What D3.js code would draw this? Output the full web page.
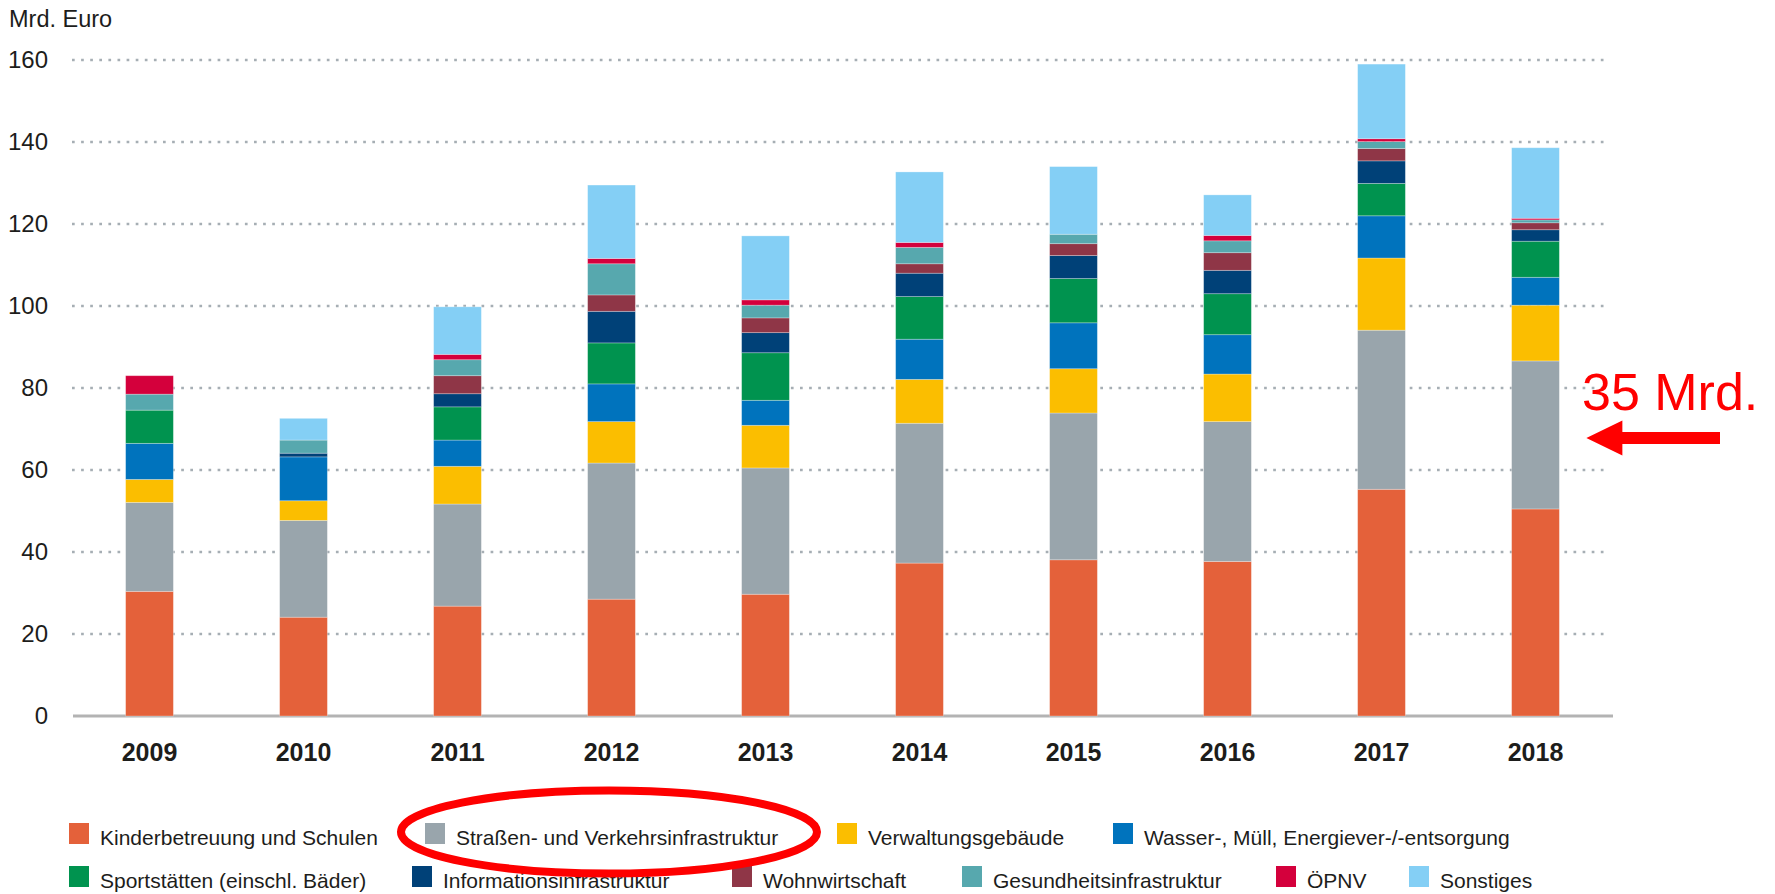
<!DOCTYPE html>
<html>
<head>
<meta charset="utf-8">
<script src="https://cdn.jsdelivr.net/npm/d3@7"></script>
<style>
  body { margin: 0; background: #fff; }
  svg { display: block; font-family: "Liberation Sans", Arial, sans-serif; }
</style>
</head>
<body>
<svg id="chart" width="1775" height="894"></svg>
<script>
// data (Mrd. Euro)
const years = ["2009", "2010", "2011", "2012", "2013", "2014", "2015", "2016", "2017", "2018"];
const seriesNames = [
    "Kinderbetreuung und Schulen", "Straßen- und Verkehrsinfrastruktur", "Verwaltungsgebäude",
    "Wasser-, Müll, Energiever-/-entsorgung", "Sportstätten (einschl. Bäder)", "Informationsinfrastruktur",
    "Wohnwirtschaft", "Gesundheitsinfrastruktur", "ÖPNV", "Sonstiges"
];
const kinder     = [30.4, 24.1, 26.8, 28.5, 29.7, 37.3, 38.1, 37.7, 55.3, 50.5];
const strassen   = [21.7, 23.6, 24.9, 33.2, 30.8, 34.1, 35.8, 34.1, 38.8, 36.1];
const verwaltung = [5.6, 4.8, 9.2, 10.1, 10.4, 10.7, 10.8, 11.6, 17.6, 13.6];
const wasser     = [8.8, 10.7, 6.4, 9.2, 6.1, 9.8, 11.2, 9.6, 10.3, 6.8];
const sport      = [8.1, 0, 8.1, 10.0, 11.6, 10.4, 10.8, 10.0, 7.9, 8.8];
const info       = [0, 0.9, 3.2, 7.7, 4.9, 5.7, 5.6, 5.7, 5.5, 2.8];
const wohnen     = [0, 0, 4.4, 4.0, 3.6, 2.3, 2.9, 4.3, 3.0, 1.7];
const gesundheit = [3.9, 3.2, 3.9, 7.6, 3.1, 4.0, 2.3, 2.9, 1.7, 0.7];
const oepnv      = [4.5, 0, 1.3, 1.3, 1.3, 1.2, 0, 1.3, 0.7, 0.4];
const sonstiges  = [0, 5.3, 11.6, 17.9, 15.6, 17.2, 16.5, 9.9, 18.2, 17.2];
const yTicks = [0, 20, 40, 60, 80, 100, 120, 140, 160];

const seriesValues = [kinder, strassen, verwaltung, wasser, sport, info, wohnen, gesundheit, oepnv, sonstiges];
const colors = ["#e4613a", "#99a5ac", "#fbbe00", "#0073bd", "#00934f",
                "#004178", "#8f3647", "#57a8ae", "#d4003c", "#84cff5"];

// legend layout (two rows, like the original)
const legendRows = [[0, 1, 2, 3], [4, 5, 6, 7, 8, 9]];
const legendX = [[69, 425, 837, 1113], [69, 412, 732, 962, 1276, 1409]];
const legendY = [823, 866];

const svg = d3.select("#chart");
const textColor = "#1d1d1b";

// table for the stack
const table = years.map((yr, i) => {
    let row = { year: yr };
    seriesNames.forEach((name, k) => { row[name] = seriesValues[k][i]; });
    return row;
});
const stacked = d3.stack().keys(seriesNames)(table);

let x = d3.scaleBand()
    .domain(years)
    .range([72.5, 1612.5])
    .paddingInner(0.69)
    .paddingOuter(0.345);

let y = d3.scaleLinear()
    .domain([0, 160])
    .range([716, 60]);

// dotted gridlines
svg.append("g")
    .selectAll("line")
    .data(yTicks.filter(d => d > 0))
    .enter().append("line")
    .attr("x1", 72)
    .attr("x2", 1605)
    .attr("y1", d => y(d))
    .attr("y2", d => y(d))
    .style("stroke", "#a6aeb4")
    .style("stroke-width", 2.7)
    .style("stroke-dasharray", "2.7,6.4");

// baseline
svg.append("line")
    .attr("x1", 73)
    .attr("x2", 1613)
    .attr("y1", y(0))
    .attr("y2", y(0))
    .style("stroke", "#b3b3b3")
    .style("stroke-width", 3);

// y axis labels
let yAxis = svg.append("g")
    .attr("transform", "translate(48,0)")
    .call(d3.axisLeft(y).tickValues(yTicks).tickSize(0).tickPadding(0));
yAxis.select(".domain").remove();
yAxis.selectAll("text")
    .style("font-family", "Liberation Sans, Arial, sans-serif")
    .style("font-size", "24px")
    .attr("fill", textColor);

// x axis labels
let xAxis = svg.append("g")
    .attr("transform", `translate(0, ${y(0)})`)
    .call(d3.axisBottom(x).tickSize(0));
xAxis.select(".domain").remove();
xAxis.selectAll("text")
    .attr("y", 45)
    .attr("dy", null)
    .style("font-family", "Liberation Sans, Arial, sans-serif")
    .style("font-size", "25px")
    .style("font-weight", "bold")
    .attr("fill", textColor);

// stacked bars
svg.append("g")
    .selectAll("g")
    .data(stacked)
    .enter().append("g")
    .attr("fill", (d, i) => colors[i])
    .selectAll("rect")
    .data(d => d.filter(p => p[1] - p[0] > 0))
    .enter().append("rect")
    .attr("x", d => x(d.data.year))
    .attr("y", d => y(d[1]))
    .attr("width", x.bandwidth())
    .attr("height", d => y(d[0]) - y(d[1]))
    .style("stroke", "#ffffff")
    .style("stroke-opacity", 0.35)
    .style("stroke-width", 0.8);

// unit label
svg.append("text")
    .attr("x", 9)
    .attr("y", 27)
    .style("font-size", "23.5px")
    .attr("fill", textColor)
    .text("Mrd. Euro");

// legend
legendRows.forEach((row, r) => {
    row.forEach((k, j) => {
        let g = svg.append("g")
            .attr("transform", `translate(${legendX[r][j]}, ${legendY[r]})`);
        g.append("rect")
            .attr("width", 20)
            .attr("height", 21)
            .attr("fill", colors[k]);
        g.append("text")
            .attr("x", 31)
            .attr("y", 21.5)
            .style("font-size", "21px")
            .attr("fill", textColor)
            .text(seriesNames[k]);
    });
});

// red annotation: ellipse round the road legend item
svg.append("ellipse")
    .attr("cx", 609)
    .attr("cy", 832)
    .attr("rx", 208)
    .attr("ry", 41.5)
    .style("fill", "none")
    .style("stroke", "#fe0000")
    .style("stroke-width", 8);

// red annotation: arrow pointing at the 2018 road segment
const last = years.length - 1;
const arrowY = y(kinder[last] + strassen[last] / 2) + 3;
const tipX = x(years[last]) + x.bandwidth() + 27;
const headLen = 36, headHalf = 17.5, shaftHalf = 6, tailX = 1720;
svg.append("path")
    .attr("d", `M${tipX},${arrowY}
                L${tipX + headLen},${arrowY - headHalf}
                L${tipX + headLen},${arrowY - shaftHalf}
                L${tailX},${arrowY - shaftHalf}
                L${tailX},${arrowY + shaftHalf}
                L${tipX + headLen},${arrowY + shaftHalf}
                L${tipX + headLen},${arrowY + headHalf}Z`)
    .attr("fill", "#ff0000");

svg.append("text")
    .attr("x", 1582)
    .attr("y", 410)
    .style("font-size", "52px")
    .attr("fill", "#ff0000")
    .text("35 Mrd.");
</script>
</body>
</html>
